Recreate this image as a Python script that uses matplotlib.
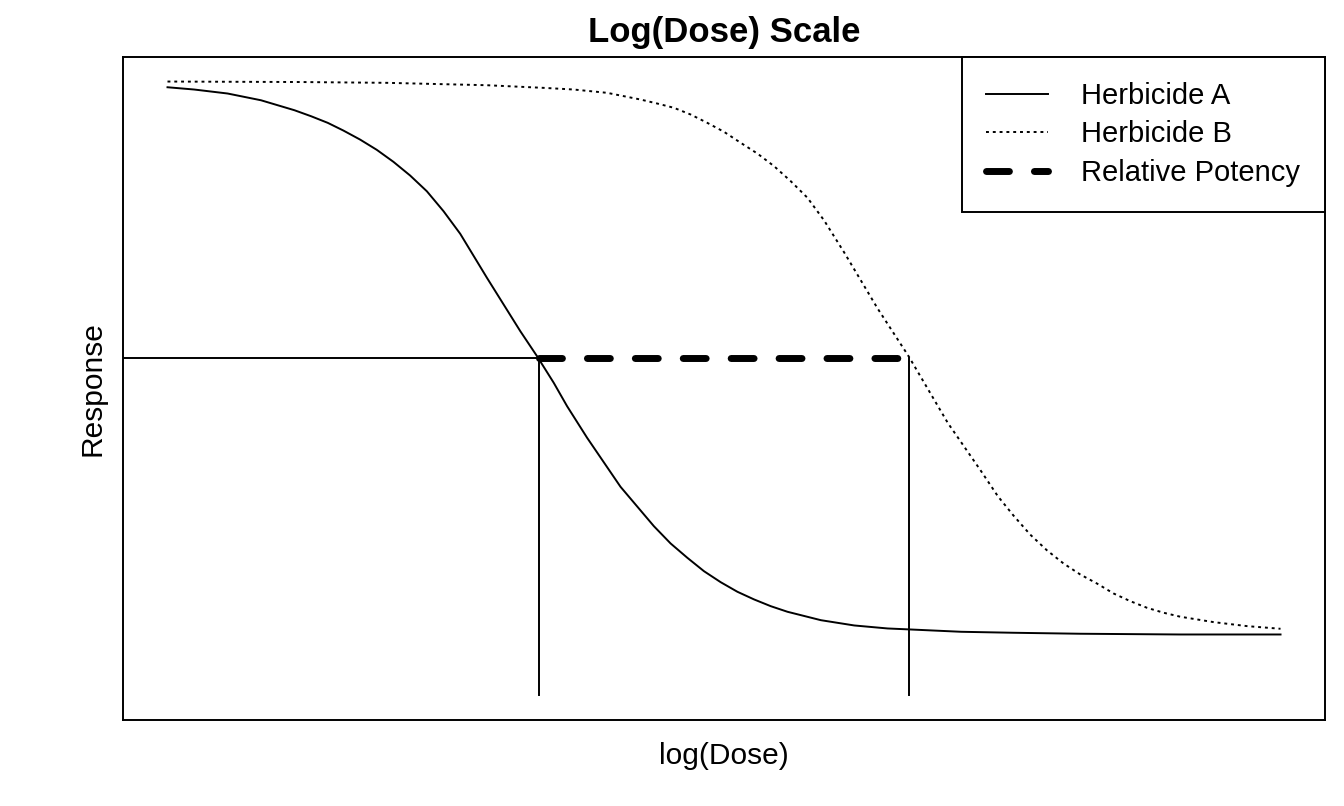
import matplotlib
matplotlib.use("Agg")
import matplotlib.pyplot as plt

plt.rcParams['font.family'] = ['Liberation Sans', 'DejaVu Sans']

# values (x: log dose, y: response)
logdose_a = [0.00, 0.24, 0.54, 0.84, 1.14, 1.29, 1.44, 1.58, 1.73, 1.88, 2.03, 2.18,
             2.33, 2.48, 2.63, 2.87, 3.17, 3.32, 3.47, 3.59, 3.77, 4.07,
             4.22, 4.37, 4.52, 4.67, 4.82, 4.97, 5.12, 5.27, 5.42, 5.57, 5.87, 6.17,
             6.47, 6.67, 7.13, 7.60, 8.20, 9.10, 10.0]
resp_a = [99.07, 98.70, 98.05, 96.95, 95.33, 94.35, 93.27, 92.02, 90.55, 88.88, 86.92, 84.69,
          82.13, 78.88, 75.20, 68.03, 59.33, 55.26, 50.93, 47.12, 41.97, 33.99,
          30.78, 27.57, 24.76, 22.43, 20.24, 18.45, 16.89, 15.64, 14.54, 13.63, 12.26, 11.40,
          10.91, 10.75, 10.37, 10.21, 10.05, 9.93, 9.93]

logdose_b = [0.00, 1.20, 1.97, 2.87, 3.38, 3.65, 3.95, 4.25, 4.40, 4.55, 4.70, 4.85,
             5.00, 5.15, 5.30, 5.45, 5.60, 5.75, 5.90, 6.08, 6.38, 6.66, 7.01, 7.31,
             7.46, 7.60, 7.75, 7.90, 8.05, 8.20, 8.35, 8.50, 8.65, 8.80, 8.95, 9.10,
             9.25, 9.40, 9.70, 10.0]
resp_b = [100.0, 99.92, 99.79, 99.40, 98.97, 98.70, 98.16, 97.07, 96.42, 95.72, 94.63, 93.27,
          91.81, 90.02, 88.27, 86.21, 83.76, 81.06, 77.36, 72.15, 63.03, 55.21, 44.41, 36.53,
          32.46, 29.32, 26.22, 23.66, 21.50, 19.71, 18.24, 16.61, 15.36, 14.28, 13.47, 12.82,
          12.38, 11.94, 11.29, 10.86]

ed_a = 3.34
ed_b = 6.66
ed_resp = 55.0
x_lo, x_hi = 0.0, 10.0
y_lo, y_hi = 0.0, 100.0

fig = plt.figure(figsize=(13.44, 8.06), dpi=100)
ax = fig.add_axes([0.0915, 0.1067, 0.8944, 0.8226])

xpad = 0.04 * (x_hi - x_lo)
ypad = 0.04 * (y_hi - y_lo)
ax.set_xlim(x_lo - xpad, x_hi + xpad)
ax.set_ylim(y_lo - ypad, y_hi + ypad)

lw = 1.4
ax.plot(logdose_a, resp_a, color='black', lw=lw, label='Herbicide A')
ax.plot(logdose_b, resp_b, color='black', lw=lw, dashes=(1.5, 2.0), label='Herbicide B')

# reference segments
ax.plot([x_lo - xpad, ed_a], [ed_resp, ed_resp], color='black', lw=lw)
ax.plot([ed_a, ed_a], [y_lo, ed_resp], color='black', lw=lw)
ax.plot([ed_b, ed_b], [y_lo, ed_resp], color='black', lw=lw)
ax.plot([ed_a, ed_b], [ed_resp, ed_resp], color='black', lw=5,
        dashes=(3.3, 3.6), dash_capstyle='round', label='Relative Potency')

ax.set_xticks([])
ax.set_yticks([])
for s in ax.spines.values():
    s.set_linewidth(1.4)

ax.set_title('Log(Dose) Scale', fontsize=25, fontweight='bold', pad=11)
ax.set_xlabel('log(Dose)', fontsize=21.5, labelpad=16)
ax.set_ylabel('Response', fontsize=21.5, labelpad=12)

leg = ax.legend(loc='upper right', fontsize=21, frameon=True, fancybox=False,
                edgecolor='black', framealpha=1, borderaxespad=0,
                handlelength=2.1, handletextpad=1.15, labelspacing=0.36,
                borderpad=0.85)
leg.get_frame().set_linewidth(1.4)

fig.savefig('out.png', dpi=100)
